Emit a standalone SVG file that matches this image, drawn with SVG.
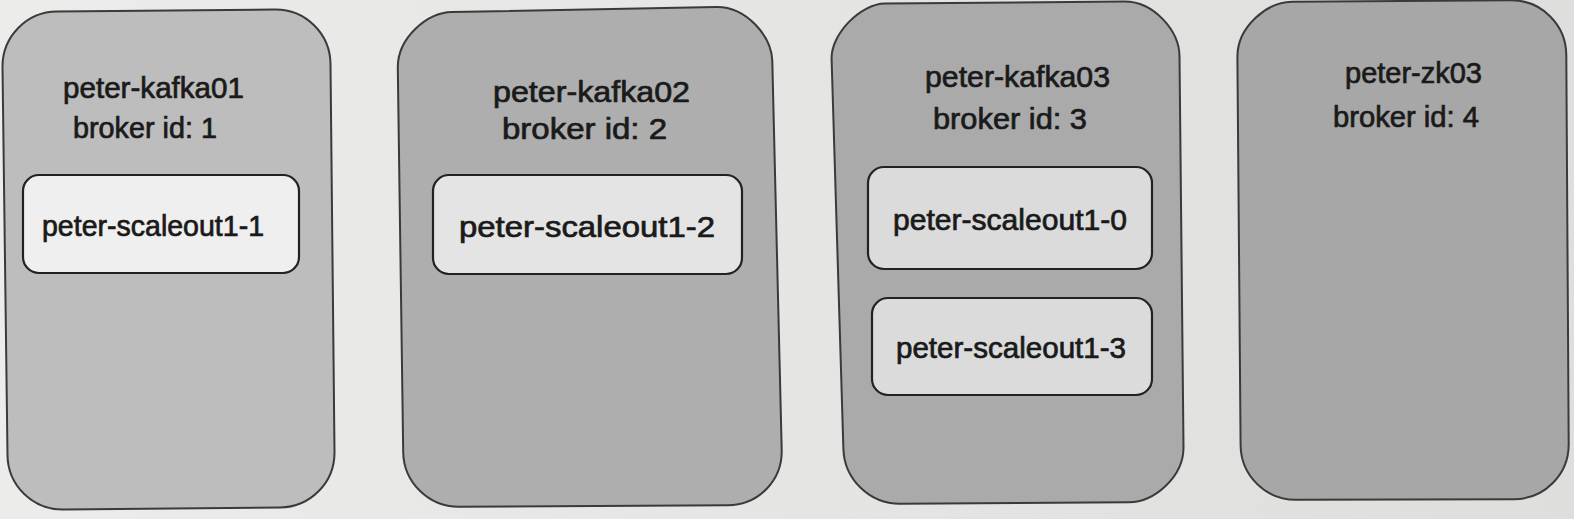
<svg xmlns="http://www.w3.org/2000/svg" width="1574" height="519" viewBox="0 0 1574 519">
<defs>
<linearGradient id="page" x1="0" y1="0" x2="1" y2="0">
<stop offset="0" stop-color="#ececea"/>
<stop offset="1" stop-color="#dededc"/>
</linearGradient>
<style>
.host{stroke:#3a3a3a;stroke-width:2}
.part{stroke:#222;stroke-width:2.2}
.t{font-family:"Liberation Sans",Arial,Helvetica,sans-serif;font-size:29px;fill:#1a1a1a;stroke:#1a1a1a;stroke-width:0.7;text-anchor:middle}
</style>
</defs>
<rect width="1574" height="519" fill="url(#page)"/>
<g id="connectors"/>
<g id="kafka01">
<path class="host" fill="#bdbdbd" d="M57 11.5 L275 9.5 C305.4 9.2 330.2 33.6 330.5 64 L334.5 452 C334.8 482.4 310.4 507.2 280 507.5 L63 509.5 C32.6 509.8 7.8 485.4 7.5 455 L2.5 67 C2.2 36.6 26.6 11.7 57 11.5 Z"/>
<text class="t" x="153.5" y="98" textLength="181" lengthAdjust="spacingAndGlyphs">peter-kafka01</text>
<text class="t" x="145" y="138" textLength="144" lengthAdjust="spacingAndGlyphs">broker id: 1</text>
<g id="p1">
<rect class="part" fill="#efefef" x="23" y="175" width="276" height="98" rx="16"/>
<text class="t" x="153" y="236" textLength="222" lengthAdjust="spacingAndGlyphs">peter-scaleout1-1</text>
</g>
</g>
<g id="kafka02">
<path class="host" fill="#aeaeae" d="M452 12 L716 7 C746.4 6.4 771.6 36.4 772.3 61 L781.7 450 C782.4 480.4 758.4 505.1 728 505.2 L459 506.8 C428.6 506.9 403.6 482.4 403.2 452 L397.8 68 C397.4 37.6 427.4 12.4 452 12 Z"/>
<text class="t" x="591.5" y="102" textLength="197" lengthAdjust="spacingAndGlyphs">peter-kafka02</text>
<text class="t" x="584.5" y="139" textLength="165" lengthAdjust="spacingAndGlyphs">broker id: 2</text>
<g id="p2">
<rect class="part" fill="#e4e4e4" x="433" y="175" width="309" height="99" rx="16"/>
<text class="t" x="587" y="237" textLength="256" lengthAdjust="spacingAndGlyphs">peter-scaleout1-2</text>
</g>
</g>
<g id="kafka03">
<path class="host" fill="#aaaaaa" d="M885 3.5 L1124 1.5 C1154.4 1.2 1179.2 31.4 1179.5 56 L1183.5 447 C1183.8 477.4 1153.6 502.1 1129 502.2 L900 503.8 C869.6 503.9 844.3 479.4 843.4 449 L831.6 59 C830.7 34.4 860.4 3.7 885 3.5 Z"/>
<text class="t" x="1017.5" y="87" textLength="185" lengthAdjust="spacingAndGlyphs">peter-kafka03</text>
<text class="t" x="1010" y="129" textLength="154" lengthAdjust="spacingAndGlyphs">broker id: 3</text>
<g id="p0">
<rect class="part" fill="#dbdbdb" x="868" y="167" width="284" height="102" rx="16"/>
<text class="t" x="1010" y="230" textLength="234" lengthAdjust="spacingAndGlyphs">peter-scaleout1-0</text>
</g>
<g id="p3">
<rect class="part" fill="#dbdbdb" x="872" y="298" width="280" height="97" rx="16"/>
<text class="t" x="1011" y="358" textLength="230" lengthAdjust="spacingAndGlyphs">peter-scaleout1-3</text>
</g>
</g>
<g id="zk03">
<path class="host" fill="#a7a7a7" d="M1292 1.7 L1511 0.3 C1541.4 0.1 1566.1 24.6 1566.3 55 L1568.7 444 C1568.9 474.4 1544.4 499.1 1514 499.2 L1296 499.8 C1265.6 499.9 1240.8 475.4 1240.6 445 L1237.4 57 C1237.2 26.6 1267.4 1.9 1292 1.7 Z"/>
<text class="t" x="1413.5" y="83" textLength="137" lengthAdjust="spacingAndGlyphs">peter-zk03</text>
<text class="t" x="1406" y="127" textLength="146" lengthAdjust="spacingAndGlyphs">broker id: 4</text>
</g>
</svg>
